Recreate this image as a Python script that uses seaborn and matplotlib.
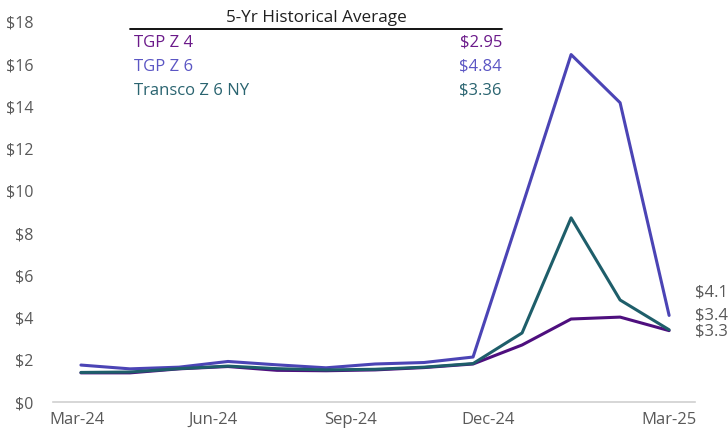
import pandas as pd
import matplotlib
matplotlib.use("Agg")
import matplotlib.pyplot as plt
import seaborn as sns

# monthly prices, Mar-24 .. Mar-25 ($/MMBtu)
MONTHS = ["Mar-24", "Apr-24", "May-24", "Jun-24", "Jul-24", "Aug-24", "Sep-24",
          "Oct-24", "Nov-24", "Dec-24", "Jan-25", "Feb-25", "Mar-25"]
TGP_Z4 = [1.38, 1.38, 1.57, 1.68, 1.50, 1.48, 1.52, 1.63, 1.80, 2.70, 3.93, 4.02, 3.38]
TGP_Z6 = [1.75, 1.57, 1.65, 1.92, 1.76, 1.62, 1.80, 1.87, 2.13, 9.25, 16.45, 14.17, 4.10]
TRANSCO_Z6 = [1.40, 1.42, 1.58, 1.70, 1.58, 1.52, 1.55, 1.65, 1.82, 3.27, 8.72, 4.83, 3.42]

SERIES = ["TGP Z 4", "TGP Z 6", "Transco Z 6 NY"]
HIST_AVG = ["$2.95", "$4.84", "$3.36"]
END_LABELS = ["$3.38", "$4.10", "$3.42"]

TICK_LABELS = ["Mar-24", "Jun-24", "Sep-24", "Dec-24", "Mar-25"]

LINE_COLORS = ["#4E0F7E", "#4B44B5", "#1E5E6A"]
TEXT_COLORS = ["#6B1A8A", "#5B56C4", "#2A6470"]

df = pd.DataFrame({
    "idx": list(range(len(MONTHS))) * 3,
    "price": TGP_Z4 + TGP_Z6 + TRANSCO_Z6,
    "series": [s for s in SERIES for _ in MONTHS],
})

sns.set_style("white")
plt.rcParams["font.family"] = ["Open Sans", "DejaVu Sans"]

fig = plt.figure(figsize=(7.28, 4.34), dpi=100)
ax = fig.add_axes([0.0728, 0.0737, 0.882, 0.876])

sns.lineplot(data=df, x="idx", y="price", hue="series", palette=LINE_COLORS,
             hue_order=SERIES, linewidth=2.2, legend=False, ax=ax)

ax.set_xlim(-0.57, 12.53)
ax.set_ylim(0, 18)
ax.set_yticks(range(0, 19, 2))
ax.set_yticklabels([f"${v}" for v in range(0, 19, 2)], color="#595959", fontsize=11.5)
ax.tick_params(axis="y", length=0, pad=14)

# tick marks sit between the label spots, like the Excel date axis
ax.set_xticks([-0.57, 2.24, 5.04, 7.84, 11.53], minor=True)
ax.set_xticks([-0.08, 2.69, 5.51, 8.31, 12.0])
ax.set_xticklabels(TICK_LABELS, color="#595959", fontsize=12)
ax.tick_params(axis="x", which="major", length=0, pad=7)
ax.tick_params(axis="x", which="minor", length=5, width=1, color="#D0D0D0", direction="out")

ax.set_xlabel("")
ax.set_ylabel("")
sns.despine(ax=ax, left=True)
ax.spines["bottom"].set_color("#D0D0D0")
ax.spines["bottom"].set_linewidth(1.2)

# end-of-line labels (run off the right edge like the original)
end_y = [3.36, 5.17, 4.08]
for lab, yy in zip(END_LABELS, end_y):
    ax.text(12.53, yy, lab, color="#595959", fontsize=12, va="center", ha="left",
            clip_on=False)

# historical average table
fig.text(316 / 728, 1 - 18 / 434, "5-Yr Historical Average", ha="center", va="center",
         fontsize=12.3, color="#202020")
fig.add_artist(plt.Line2D([130 / 728, 502 / 728], [1 - 29 / 434, 1 - 29 / 434],
                          color="black", linewidth=1.3))
for i, (name, val) in enumerate(zip(SERIES, HIST_AVG)):
    yy = 1 - (43 + i * 24) / 434
    fig.text(134 / 728, yy, name, ha="left", va="center", fontsize=12, color=TEXT_COLORS[i])
    fig.text(502 / 728, yy, val, ha="right", va="center", fontsize=12, color=TEXT_COLORS[i])

fig.savefig("out.png", dpi=100)
